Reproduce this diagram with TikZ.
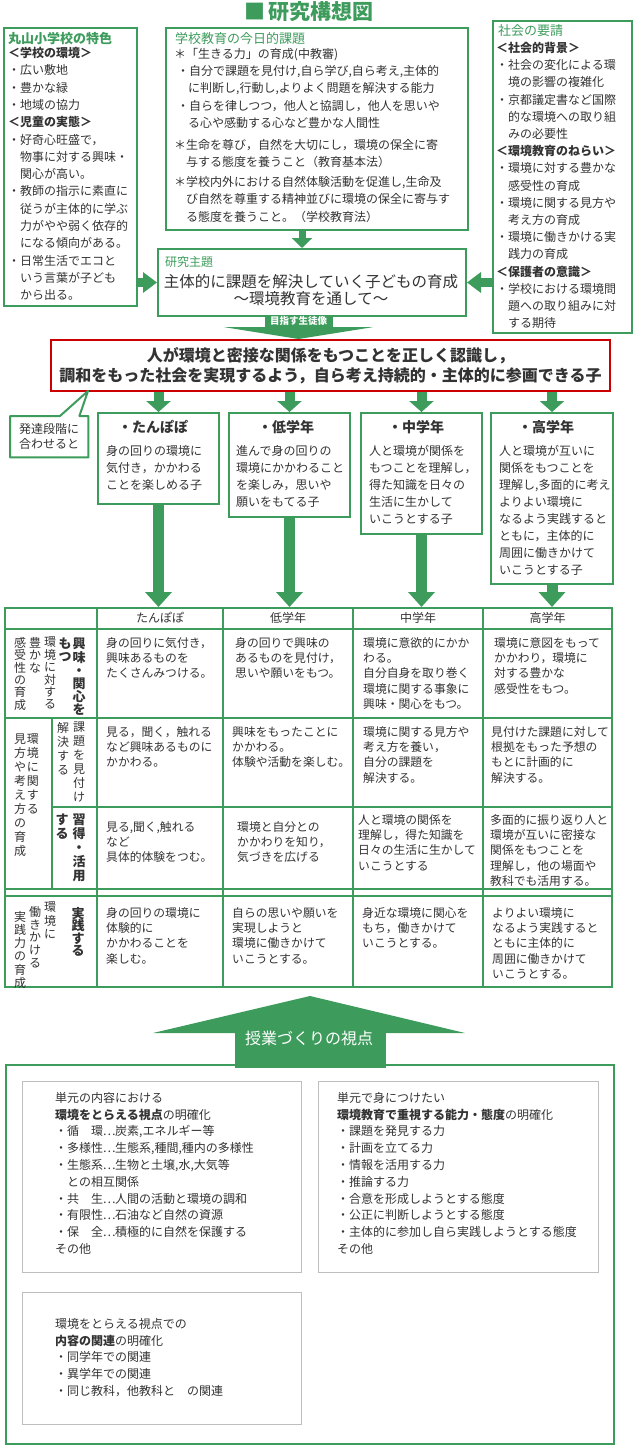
\documentclass[tikz,border=0pt]{standalone}
\usepackage{fontspec}
\setmainfont{Noto Sans CJK JP}
\usetikzlibrary{arrows.meta}
\definecolor{kgreen}{RGB}{61,156,92}
\definecolor{kred}{RGB}{204,0,0}
\definecolor{ink}{RGB}{51,51,51}
\definecolor{kgray}{RGB}{190,190,190}
% vertical text, one glyph per line
\def\tatestep#1{\ifx\relax#1\else\hbox to 1em{\hss#1\hss}\expandafter\tatestep\fi}
\newcommand\tate[2][13.5pt]{\vtop{\baselineskip=#1\lineskiplimit=-100pt\lineskip=0pt\tatestep#2\relax}}
% full-width ellipsis
\newcommand\fdots{\makebox[1em]{…}}

\begin{document}
\begin{tikzpicture}[x=1pt, y=-1pt,
  gbox/.style={draw=kgreen, line width=2pt, inner sep=0pt, anchor=north west},
  graybox/.style={draw=kgray, line width=1pt, inner sep=0pt, anchor=north west},
  tabline/.style={kgreen, line width=2pt},
  txt/.style={anchor=north west, inner sep=0pt, align=left, text=ink, font=\fontsize{12}{17.3}\selectfont},
  gradetx/.style={txt, font=\fontsize{12}{17}\selectfont},
  celltx/.style={txt, font=\fontsize{11.8}{15.3}\selectfont},
  notetx/.style={txt, font=\fontsize{12}{16.8}\selectfont},
  boxhd/.style={anchor=west, inner sep=0pt, text=kgreen, font=\fontsize{13}{15}\selectfont},
  gradehd/.style={anchor=west, inner sep=0pt, text=ink, font=\bfseries\fontsize{14}{14}\selectfont},
  colhd/.style={inner sep=0pt, text=ink, font=\fontsize{12}{12}\selectfont},
  tatetx/.style={anchor=north, inner sep=0pt, text=ink, font=\fontsize{12}{12}\selectfont},
  tatebf/.style={tatetx, font=\bfseries\fontsize{13}{13}\selectfont},
  fatarrow/.style={kgreen, line width=9pt, -{Triangle[width=20pt,length=14pt]}},
  shortarrow/.style={kgreen, line width=10pt, -{Triangle[width=24pt,length=11pt]}},
  longarrow/.style={kgreen, line width=11pt, -{Triangle[width=26pt,length=15pt]}}]
\fill[white] (0,0) rectangle (634,1450);
\useasboundingbox (0,0) rectangle (634,1450);

\node[inner sep=0pt, text=kgreen, font=\bfseries\fontsize{21}{21}\selectfont] (title) at (309,12) {■\,研究構想図};

% upper boxes
\node[gbox, minimum width=133pt, minimum height=278pt] (feature) at (3,27) {};
\node[boxhd, font=\bfseries\fontsize{13}{15}\selectfont] (featurehd) at (8,39) {丸山小学校の特色};
\node[txt] (featuretx) at (8,47) {\textbf{＜学校の環境＞}\\・広い敷地\\・豊かな緑\\・地域の協力\\\textbf{＜児童の実態＞}\\・好奇心旺盛で，\\　物事に対する興味・\\　関心が高い。\\・教師の指示に素直に\\　従うが主体的に学ぶ\\　力がやや弱く依存的\\　になる傾向がある。\\・日常生活でエコと\\　いう言葉が子ども\\　から出る。};

\node[gbox, minimum width=302pt, minimum height=202pt] (issues) at (165,27) {};
\node[boxhd] (issueshd) at (175,39) {学校教育の今日的課題};
\node[txt] (issuestx) at (174,48) {＊「生きる力」の育成(中教審)\\
\hspace*{3pt}・自分で課題を見付け,自ら学び,自ら考え,主体的\\
\hspace*{14pt}に判断し,行動し,よりよく問題を解決する能力\\
\hspace*{3pt}・自らを律しつつ，他人と協調し，他人を思いや\\
\hspace*{14pt}る心や感動する心など豊かな人間性\\[4.5pt]
＊生命を尊び，自然を大切にし，環境の保全に寄\\
\hspace*{12pt}与する態度を養うこと（教育基本法）\\[2.5pt]
＊学校内外における自然体験活動を促進し,生命及\\
\hspace*{12pt}び自然を尊重する精神並びに環境の保全に寄与す\\
\hspace*{12pt}る態度を養うこと。（学校教育法）};

\node[gbox, minimum width=139pt, minimum height=312pt] (society) at (492,20) {};
\node[boxhd] (societyhd) at (498,31) {社会の要請};
\node[txt, font=\fontsize{12}{17.2}\selectfont] (societytx) at (496,42) {\textbf{＜社会的背景＞}\\・社会の変化による環\\　境の影響の複雑化\\・京都議定書など国際\\　的な環境への取り組\\　みの必要性\\\textbf{＜環境教育のねらい＞}\\・環境に対する豊かな\\　感受性の育成\\・環境に関する見方や\\　考え方の育成\\・環境に働きかける実\\　践力の育成\\\textbf{＜保護者の意識＞}\\・学校における環境問\\　題への取り組みに対\\　する期待};

% research theme
\node[gbox, minimum width=308pt, minimum height=67pt] (theme) at (157,248) {};
\node[boxhd, font=\fontsize{12}{14}\selectfont] (themehd) at (165,262) {研究主題};
\node[inner sep=0pt, align=center, text=ink, font=\fontsize{15.5}{17}\selectfont] (themetx) at (311,290) {主体的に課題を解決していく子どもの育成\\〜環境教育を通して〜};
\draw[fatarrow] (feature.east |- theme.west) -- (theme.west);
\draw[fatarrow] (society.west |- theme.east) -- (theme.east);
\draw[fatarrow, line width=7pt, -{Triangle[width=20pt,length=10pt]}] ([xshift=-15pt]issues.south) -- ([xshift=-10pt]theme.north);

% aim
\node[draw=kred, line width=2pt, inner sep=0pt, anchor=north west, minimum width=559pt, minimum height=51pt] (aim) at (50,339) {};
\node[inner sep=0pt, align=center, text=ink, font=\bfseries\fontsize{16}{19.5}\selectfont] (aimtx) at (aim.center) {人が環境と密接な関係をもつことを正しく認識し，\\調和をもった社会を実現するよう，自ら考え持続的・主体的に参画できる子};
\node[fill=kgreen, text=white, inner sep=0pt, minimum width=68pt, minimum height=12pt, font=\bfseries\fontsize{9.5}{9.5}\selectfont] (goal) at (298.5,321) {目指す生徒像};
\fill[kgreen] ([xshift=-74pt]goal.south) -- ([xshift=74pt]goal.south) -- (goal.south |- aim.north) -- cycle;

% callout
\node[inner sep=0pt, align=left, text=ink, font=\fontsize{12}{15}\selectfont, minimum width=78pt, minimum height=41pt, anchor=north west] (stage) at (10,416) {発達段階に\\合わせると};
\coordinate (tip) at (88,391);
\draw[draw=kgreen, line width=2pt, line join=round] (stage.north west) -- ++(50,0) -- (tip) -- ([xshift=-9pt]stage.north east) -- (stage.north east) -- (stage.south east) -- (stage.south west) -- cycle;

% grade boxes
\node[gbox, minimum width=121pt, minimum height=91pt] (tanpopo) at (97,412) {};
\node[gbox, minimum width=121pt, minimum height=104pt] (lower) at (228,412) {};
\node[gbox, minimum width=121pt, minimum height=121pt] (middle) at (360,412) {};
\node[gbox, minimum width=122pt, minimum height=171pt] (upper) at (490,412) {};
\node[gradehd] (tanpopohd) at (118,427) {・たんぽぽ};
\node[gradehd] (lowerhd) at (258,427) {・低学年};
\node[gradehd] (middlehd) at (388,427) {・中学年};
\node[gradehd] (upperhd) at (518,427) {・高学年};
\node[gradetx] (tanpopotx) at (106,445) {身の回りの環境に\\気付き，かかわる\\ことを楽しめる子};
\node[gradetx] (lowertx) at (236,445) {進んで身の回りの\\環境にかかわること\\を楽しみ，思いや\\願いをもてる子};
\node[gradetx] (middletx) at (369,445) {人と環境が関係を\\もつことを理解し，\\得た知識を日々の\\生活に生かして\\いこうとする子};
\node[gradetx] (uppertx) at (499,445) {人と環境が互いに\\関係をもつことを\\理解し,多面的に考え\\よりよい環境に\\なるよう実践すると\\ともに，主体的に\\周囲に働きかけて\\いこうとする子};

\coordinate (tabletop) at (0,607);
\draw[shortarrow] (aim.south -| tanpopo.north) -- (tanpopo.north);
\draw[shortarrow] (aim.south -| lower.north) -- (lower.north);
\draw[shortarrow] (aim.south -| middle.north) -- (middle.north);
\draw[shortarrow] (aim.south -| upper.north) -- (upper.north);
\draw[longarrow] (tanpopo.south) -- (tanpopo.south |- tabletop);
\draw[longarrow] (lower.south) -- (lower.south |- tabletop);
\draw[longarrow] (middle.south) -- (middle.south |- tabletop);
\draw[longarrow] (upper.south) -- (upper.south |- tabletop);

% table
\draw[tabline] (5,608) rectangle (612,987);
\draw[tabline] (5,629) -- (612,629);
\draw[tabline] (5,718) -- (612,718);
\draw[tabline] (52,807) -- (612,807);
\draw[tabline] (5,889) -- (612,889);
\draw[tabline] (5,896) -- (612,896);
\draw[tabline] (97,608) -- (97,987);
\draw[tabline] (223,608) -- (223,987);
\draw[tabline] (353,608) -- (353,987);
\draw[tabline] (483,608) -- (483,987);
\draw[tabline] (52,718) -- (52,889);

\node[colhd] (col1) at (160,618) {たんぽぽ};
\node[colhd] (col2) at (288,618) {低学年};
\node[colhd] (col3) at (418,618) {中学年};
\node[colhd] (col4) at (547.5,618) {高学年};

\node[tatebf] (r1a) at (79,637.5) {\tate[13.2pt]{興味・関心を}};
\node[tatebf] (r1b) at (65,637.5) {\tate[13.2pt]{もつ}};
\node[tatetx] (r1c) at (50,637) {\tate[12.4pt]{環境に対する}};
\node[tatetx] (r1d) at (35,637) {\tate[12.4pt]{豊かな}};
\node[tatetx] (r1e) at (20,637) {\tate[12.4pt]{感受性の育成}};
\node[tatetx] (r2a) at (33,734) {\tate[14pt]{環境に関する}};
\node[tatetx] (r2b) at (20,734) {\tate[14pt]{見方や考え方の育成}};
\node[tatetx] (r2c) at (79,722) {\tate[14pt]{課題を見付け}};
\node[tatetx] (r2d) at (63,722) {\tate[14pt]{解決する}};
\node[tatebf] (r3a) at (79,814) {\tate[14pt]{習得・活用}};
\node[tatebf] (r3b) at (62,814) {\tate[14pt]{する}};
\node[tatebf] (r4a) at (78,907) {\tate[12.5pt]{実践する}};
\node[tatetx] (r4b) at (50,902) {\tate[13.5pt]{環境に}};
\node[tatetx] (r4c) at (35,906) {\tate[12.8pt]{働きかける}};
\node[tatetx] (r4d) at (20,911) {\tate[13.2pt]{実践力の育成}};

\node[celltx] (a1) at (106,637) {身の回りに気付き，\\興味あるものを\\たくさんみつける。};
\node[celltx] (a2) at (235,637) {身の回りで興味の\\あるものを見付け，\\思いや願いをもつ。};
\node[celltx] (a3) at (363,637) {環境に意欲的にかか\\わる。\\自分自身を取り巻く\\環境に関する事象に\\興味・関心をもつ。};
\node[celltx] (a4) at (494,637) {環境に意図をもって\\かかわり，環境に\\対する豊かな\\感受性をもつ。};
\node[celltx] (b1) at (106,726) {見る，聞く，触れる\\など興味あるものに\\かかわる。};
\node[celltx] (b2) at (232,726) {興味をもったことに\\かかわる。\\体験や活動を楽しむ。};
\node[celltx] (b3) at (363,726) {環境に関する見方や\\考え方を養い，\\自分の課題を\\解決する。};
\node[celltx] (b4) at (491,726) {見付けた課題に対して\\根拠をもった予想の\\もとに計画的に\\解決する。};
\node[celltx] (c1) at (106,821) {見る,聞く,触れる\\など\\具体的体験をつむ。};
\node[celltx] (c2) at (237,821) {環境と自分との\\かかわりを知り，\\気づきを広げる};
\node[celltx] (c3) at (358,814) {人と環境の関係を\\理解し，得た知識を\\日々の生活に生かして\\いこうとする};
\node[celltx] (c4) at (490,814) {多面的に振り返り人と\\環境が互いに密接な\\関係をもつことを\\理解し，他の場面や\\教科でも活用する。};
\node[celltx] (d1) at (106,907) {身の回りの環境に\\体験的に\\かかわることを\\楽しむ。};
\node[celltx] (d2) at (232,907) {自らの思いや願いを\\実現しようと\\環境に働きかけて\\いこうとする。};
\node[celltx] (d3) at (362,907) {身近な環境に関心を\\もち，働きかけて\\いこうとする。};
\node[celltx] (d4) at (492,907) {よりよい環境に\\なるよう実践すると\\ともに主体的に\\周囲に働きかけて\\いこうとする。};

% lesson viewpoints
\node[gbox, minimum width=608pt, minimum height=379pt] (lessons) at (5,1064) {};
\node[fill=kgreen, inner sep=0pt, anchor=north, minimum width=151pt, minimum height=35pt] (viewbase) at (310,1033) {};
\fill[kgreen] ([xshift=-157pt]viewbase.north) -- ([xshift=155pt]viewbase.north) -- ([yshift=37pt]viewbase.north) -- cycle;
\node[inner sep=0pt, text=white, font=\fontsize{16}{16}\selectfont] (viewtx) at (309,1038) {授業づくりの視点};

\node[graybox, minimum width=279pt, minimum height=191pt] (content) at (22,1081) {};
\node[graybox, minimum width=280pt, minimum height=191pt] (ability) at (318,1081) {};
\node[graybox, minimum width=279pt, minimum height=132pt] (relation) at (22,1292) {};
\node[notetx] (contenttx) at (55,1092) {単元の内容における\\\textbf{環境をとらえる視点}の明確化\\・循　環\fdots 炭素,エネルギー等\\・多様性\fdots 生態系,種間,種内の多様性\\・生態系\fdots 生物と土壌,水,大気等\\　との相互関係\\・共　生\fdots 人間の活動と環境の調和\\・有限性\fdots 石油など自然の資源\\・保　全\fdots 積極的に自然を保護する\\その他};
\node[notetx] (abilitytx) at (337,1092) {単元で身につけたい\\\textbf{環境教育で重視する能力・態度}の明確化\\・課題を発見する力\\・計画を立てる力\\・情報を活用する力\\・推論する力\\・合意を形成しようとする態度\\・公正に判断しようとする態度\\・主体的に参加し自ら実践しようとする態度\\その他};
\node[notetx] (relationtx) at (55,1318) {環境をとらえる視点での\\\textbf{内容の関連}の明確化\\・同学年での関連\\・異学年での関連\\・同じ教科，他教科と　の関連};
\end{tikzpicture}
\end{document}
